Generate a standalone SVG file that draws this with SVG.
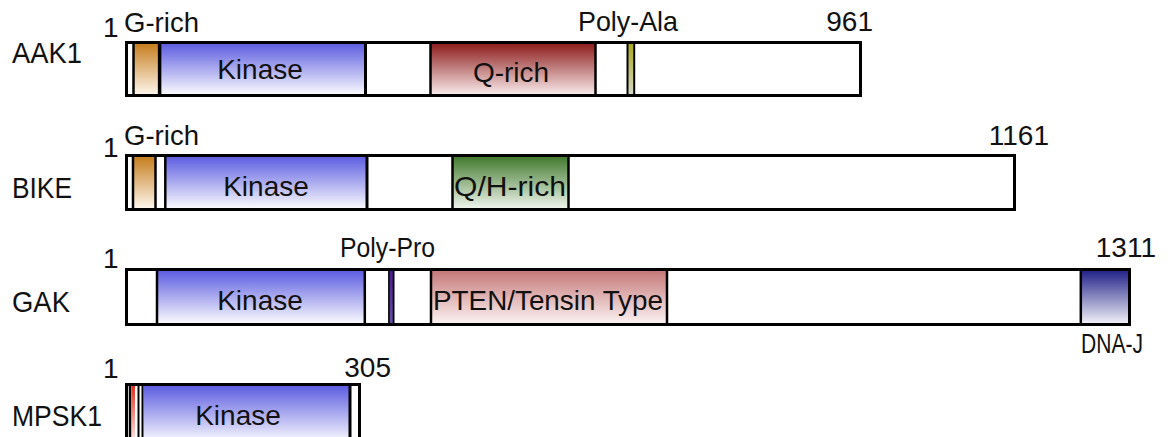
<svg xmlns="http://www.w3.org/2000/svg" width="1173" height="437" viewBox="0 0 1173 437">
<defs>
<linearGradient id="gKin" x1="0" y1="0" x2="0" y2="1"><stop offset="0" stop-color="#5858e0"/><stop offset="1" stop-color="#ffffff"/></linearGradient>
<linearGradient id="gOr" x1="0" y1="0" x2="0" y2="1"><stop offset="0" stop-color="#c47a18"/><stop offset="1" stop-color="#fffaf2"/></linearGradient>
<linearGradient id="gQ" x1="0" y1="0" x2="0" y2="1"><stop offset="0" stop-color="#8a1616"/><stop offset="1" stop-color="#fcf0f0"/></linearGradient>
<linearGradient id="gQH" x1="0" y1="0" x2="0" y2="1"><stop offset="0" stop-color="#3c7628"/><stop offset="1" stop-color="#f4f8f1"/></linearGradient>
<linearGradient id="gPT" x1="0" y1="0" x2="0" y2="1"><stop offset="0" stop-color="#c47474"/><stop offset="1" stop-color="#fdf5f5"/></linearGradient>
<linearGradient id="gDJ" x1="0" y1="0" x2="0" y2="1"><stop offset="0" stop-color="#1c1c86"/><stop offset="1" stop-color="#f6f6fb"/></linearGradient>
<linearGradient id="gPA" x1="0" y1="0" x2="0" y2="1"><stop offset="0" stop-color="#a8a818"/><stop offset="1" stop-color="#d8d8cc"/></linearGradient>
<linearGradient id="gPP" x1="0" y1="0" x2="0" y2="1"><stop offset="0" stop-color="#4a1890"/><stop offset="1" stop-color="#6a50a8"/></linearGradient>
<linearGradient id="gRd" x1="0" y1="0" x2="0" y2="1"><stop offset="0" stop-color="#e02a18"/><stop offset="1" stop-color="#fff4f0"/></linearGradient>
</defs>
<style>
text{font-family:"Liberation Sans",Arial,sans-serif;font-size:28px;fill:#111}
.name{font-size:30px}
.mid{text-anchor:middle}
.end{text-anchor:end}
.ln{stroke:#000;fill:none}
.box{fill:none;stroke:#000;stroke-width:3}
</style>
<rect width="1173" height="437" fill="#fff"/>

<g id="AAK1">
<rect x="126.5" y="42.5" width="734" height="53" fill="#fff"/>
<rect x="134" y="42" width="24" height="54" fill="url(#gOr)"/>
<rect x="161" y="42" width="204" height="54" fill="url(#gKin)"/>
<rect x="431" y="42" width="164" height="54" fill="url(#gQ)"/>
<rect x="628" y="42" width="5.5" height="54" fill="url(#gPA)"/>
<line class="ln" x1="133.5" y1="42" x2="133.5" y2="96" stroke-width="2.5"/>
<line class="ln" x1="159.6" y1="42" x2="159.6" y2="96" stroke-width="3.5"/>
<line class="ln" x1="365.5" y1="42" x2="365.5" y2="96" stroke-width="3"/>
<line class="ln" x1="430.5" y1="42" x2="430.5" y2="96" stroke-width="2.5"/>
<line class="ln" x1="595.5" y1="42" x2="595.5" y2="96" stroke-width="2.5"/>
<line class="ln" x1="627.5" y1="42" x2="627.5" y2="96" stroke-width="2"/>
<line class="ln" x1="634.2" y1="42" x2="634.2" y2="96" stroke-width="2"/>
<rect class="box" x="126.5" y="42.5" width="734" height="53"/>
<text class="name" x="12" y="63" textLength="70" lengthAdjust="spacingAndGlyphs">AAK1</text>
<text x="103" y="37">1</text>
<text x="124" y="32" textLength="75" lengthAdjust="spacingAndGlyphs">G-rich</text>
<text class="mid" x="260" y="79">Kinase</text>
<text class="mid" x="511" y="82">Q-rich</text>
<text x="578" y="31" textLength="100" lengthAdjust="spacingAndGlyphs">Poly-Ala</text>
<text class="end" x="873" y="31">961</text>
</g>

<g id="BIKE">
<rect x="126.5" y="155.5" width="888" height="54" fill="#fff"/>
<rect x="134" y="155" width="21" height="55" fill="url(#gOr)"/>
<rect x="166" y="155" width="201" height="55" fill="url(#gKin)"/>
<rect x="453" y="155" width="115" height="55" fill="url(#gQH)"/>
<line class="ln" x1="133" y1="155" x2="133" y2="210" stroke-width="2.5"/>
<line class="ln" x1="155.5" y1="155" x2="155.5" y2="210" stroke-width="2.5"/>
<line class="ln" x1="165.3" y1="155" x2="165.3" y2="210" stroke-width="2.5"/>
<line class="ln" x1="367" y1="155" x2="367" y2="210" stroke-width="3"/>
<line class="ln" x1="452.5" y1="155" x2="452.5" y2="210" stroke-width="2.5"/>
<line class="ln" x1="568.5" y1="155" x2="568.5" y2="210" stroke-width="2.5"/>
<rect class="box" x="126.5" y="155.5" width="888" height="54"/>
<text class="name" x="12" y="198" textLength="60" lengthAdjust="spacingAndGlyphs">BIKE</text>
<text x="103" y="157">1</text>
<text x="124" y="145" textLength="75" lengthAdjust="spacingAndGlyphs">G-rich</text>
<text class="mid" x="266" y="196">Kinase</text>
<text x="454" y="196" textLength="112" lengthAdjust="spacingAndGlyphs">Q/H-rich</text>
<text class="end" x="1049" y="145">1161</text>
</g>

<g id="GAK">
<rect x="126.5" y="269.5" width="1003" height="55" fill="#fff"/>
<rect x="158" y="269" width="206" height="56" fill="url(#gKin)"/>
<rect x="390" y="269" width="3" height="56" fill="url(#gPP)"/>
<rect x="432" y="269" width="235" height="56" fill="url(#gPT)"/>
<rect x="1081" y="269" width="48" height="56" fill="url(#gDJ)"/>
<line class="ln" x1="157" y1="269" x2="157" y2="325" stroke-width="2.5"/>
<line class="ln" x1="364.8" y1="269" x2="364.8" y2="325" stroke-width="2.5"/>
<line class="ln" x1="389" y1="269" x2="389" y2="325" stroke-width="1.8"/>
<line class="ln" x1="393.6" y1="269" x2="393.6" y2="325" stroke-width="1.8"/>
<line class="ln" x1="431" y1="269" x2="431" y2="325" stroke-width="2.5"/>
<line class="ln" x1="667" y1="269" x2="667" y2="325" stroke-width="2.5"/>
<line class="ln" x1="1080.8" y1="269" x2="1080.8" y2="325" stroke-width="2.5"/>
<rect class="box" x="126.5" y="269.5" width="1003" height="55"/>
<text class="name" x="12" y="312" textLength="58" lengthAdjust="spacingAndGlyphs">GAK</text>
<text x="103" y="268">1</text>
<text x="340" y="257" textLength="95" lengthAdjust="spacingAndGlyphs">Poly-Pro</text>
<text class="mid" x="260" y="310">Kinase</text>
<text x="433" y="310" textLength="230" lengthAdjust="spacingAndGlyphs">PTEN/Tensin Type</text>
<text class="end" x="1156" y="257">1311</text>
<text x="1081" y="353" textLength="62" lengthAdjust="spacingAndGlyphs">DNA-J</text>
</g>

<g id="MPSK1">
<rect x="126.5" y="384.5" width="233" height="60" fill="#fff"/>
<rect x="131.5" y="384" width="3.5" height="60" fill="url(#gRd)"/>
<rect x="143.5" y="384" width="206" height="60" fill="url(#gKin)"/>
<line class="ln" x1="130" y1="384" x2="130" y2="440" stroke-width="2.5"/>
<line class="ln" x1="138.5" y1="384" x2="138.5" y2="440" stroke-width="2"/>
<line class="ln" x1="142.5" y1="384" x2="142.5" y2="440" stroke-width="2"/>
<line class="ln" x1="350" y1="384" x2="350" y2="440" stroke-width="3"/>
<rect class="box" x="126.5" y="384.5" width="233" height="60"/>
<text class="name" x="12" y="426" textLength="90" lengthAdjust="spacingAndGlyphs">MPSK1</text>
<text x="103" y="378">1</text>
<text class="end" x="391" y="377">305</text>
<text class="mid" x="238" y="425">Kinase</text>
</g>
</svg>
